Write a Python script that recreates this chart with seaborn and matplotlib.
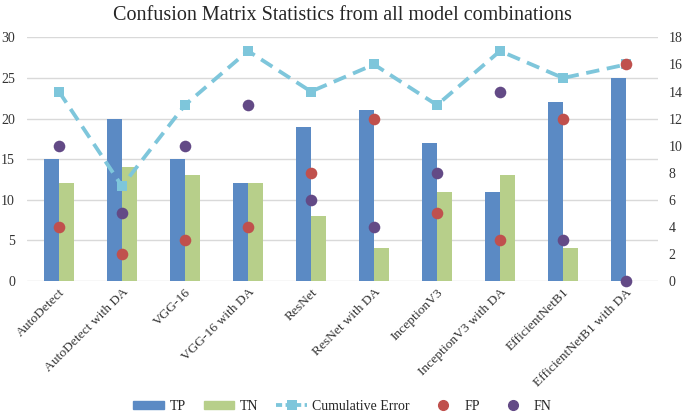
import numpy as np
import pandas as pd
import matplotlib
matplotlib.use("Agg")
import matplotlib.pyplot as plt
from matplotlib.lines import Line2D
from matplotlib.patches import Patch
import seaborn as sns

categories = ["AutoDetect", "AutoDetect with DA", "VGG-16", "VGG-16 with DA", "ResNet",
              "ResNet with DA", "InceptionV3", "InceptionV3 with DA", "EfficientNetB1",
              "EfficientNetB1 with DA"]
tp = [15, 20, 15, 12, 19, 21, 17, 11, 22, 25]
tn = [12, 14, 13, 12, 8, 4, 11, 13, 4, 0]
fp = [4, 2, 3, 4, 8, 12, 5, 3, 12, 16]
fn = [10, 5, 10, 13, 6, 4, 8, 14, 3, 0]
cum_err = [14, 7, 13, 17, 14, 16, 13, 17, 15, 16]

sns.set_theme(style="white")
plt.rcParams["font.family"] = ["Liberation Serif", "DejaVu Serif"]

C_TP = "#5B8AC4"
C_TN = "#B7CF8A"
C_CE = "#7EC6DB"
C_FP = "#C0504D"
C_FN = "#634A86"

fig = plt.figure(figsize=(6.85, 4.16), dpi=100)
ax = fig.add_axes([0.04, 0.325, 0.92, 0.585])

bars = pd.DataFrame({
    "model": categories * 2,
    "metric": ["TP"] * len(categories) + ["TN"] * len(categories),
    "value": tp + tn,
})
sns.barplot(data=bars, x="model", y="value", hue="metric", order=categories,
            hue_order=["TP", "TN"], palette=[C_TP, C_TN], width=0.48, gap=0,
            saturation=1, ax=ax, legend=False, linewidth=0)
ax.set_ylim(0, 30)
ax.set_yticks(range(0, 31, 5))
ax.set_xlim(-0.5, len(categories) - 0.5)
ax.yaxis.grid(True, color="#d9d9d9", linewidth=1)
ax.set_axisbelow(True)
for s in ax.spines.values():
    s.set_visible(False)
ax.set_xlabel("")
ax.set_ylabel("")
ax.tick_params(axis="y", length=0, labelsize=10, colors="#333333", pad=9)
ax.tick_params(axis="x", length=0, labelsize=9.7, colors="#333333", pad=4)
ax.set_xticks(range(len(categories)))
ax.set_xticklabels(categories, rotation=45, ha="right", rotation_mode="anchor")

ax2 = ax.twinx()
idx = np.arange(len(categories))
pts = pd.DataFrame({"x": idx, "ce": cum_err, "fp": fp, "fn": fn})
sns.lineplot(data=pts, x="x", y="ce", ax=ax2, color=C_CE, linewidth=2.75,
             linestyle=(0, (3.5, 2)), marker="s", markersize=7, markeredgewidth=0)
sns.scatterplot(data=pts, x="x", y="fp", ax=ax2, color=C_FP, s=70, linewidth=0, zorder=5)
sns.scatterplot(data=pts, x="x", y="fn", ax=ax2, color=C_FN, s=70, linewidth=0, zorder=5)
ax2.set_ylim(0, 18)
ax2.set_yticks(range(0, 19, 2))
ax2.set_xlim(-0.5, len(categories) - 0.5)
ax2.set_xlabel("")
ax2.set_ylabel("")
for s in ax2.spines.values():
    s.set_visible(False)
ax2.tick_params(axis="y", length=0, labelsize=10, colors="#333333", pad=8)
for c in ax2.collections:
    c.set_clip_on(False)

fig.suptitle("Confusion Matrix Statistics from all model combinations", fontsize=14.5, y=0.985)

handles = [
    Patch(color=C_TP, label="TP"),
    Patch(color=C_TN, label="TN"),
    Line2D([], [], color=C_CE, linewidth=2.75, linestyle=(0, (1.6, 0.9)), marker="s",
           markersize=7, markeredgewidth=0, label="Cumulative Error"),
    Line2D([], [], color=C_FP, linestyle="none", marker="o", markersize=7, label="FP"),
    Line2D([], [], color=C_FN, linestyle="none", marker="o", markersize=7, label="FN"),
]
fig.legend(handles=handles, loc="lower center", bbox_to_anchor=(0.5, -0.022), ncol=5,
           frameon=False, fontsize=10, handlelength=2.2, handleheight=0.55,
           handletextpad=0.4, columnspacing=1.3)

fig.savefig("out.png", dpi=100)
